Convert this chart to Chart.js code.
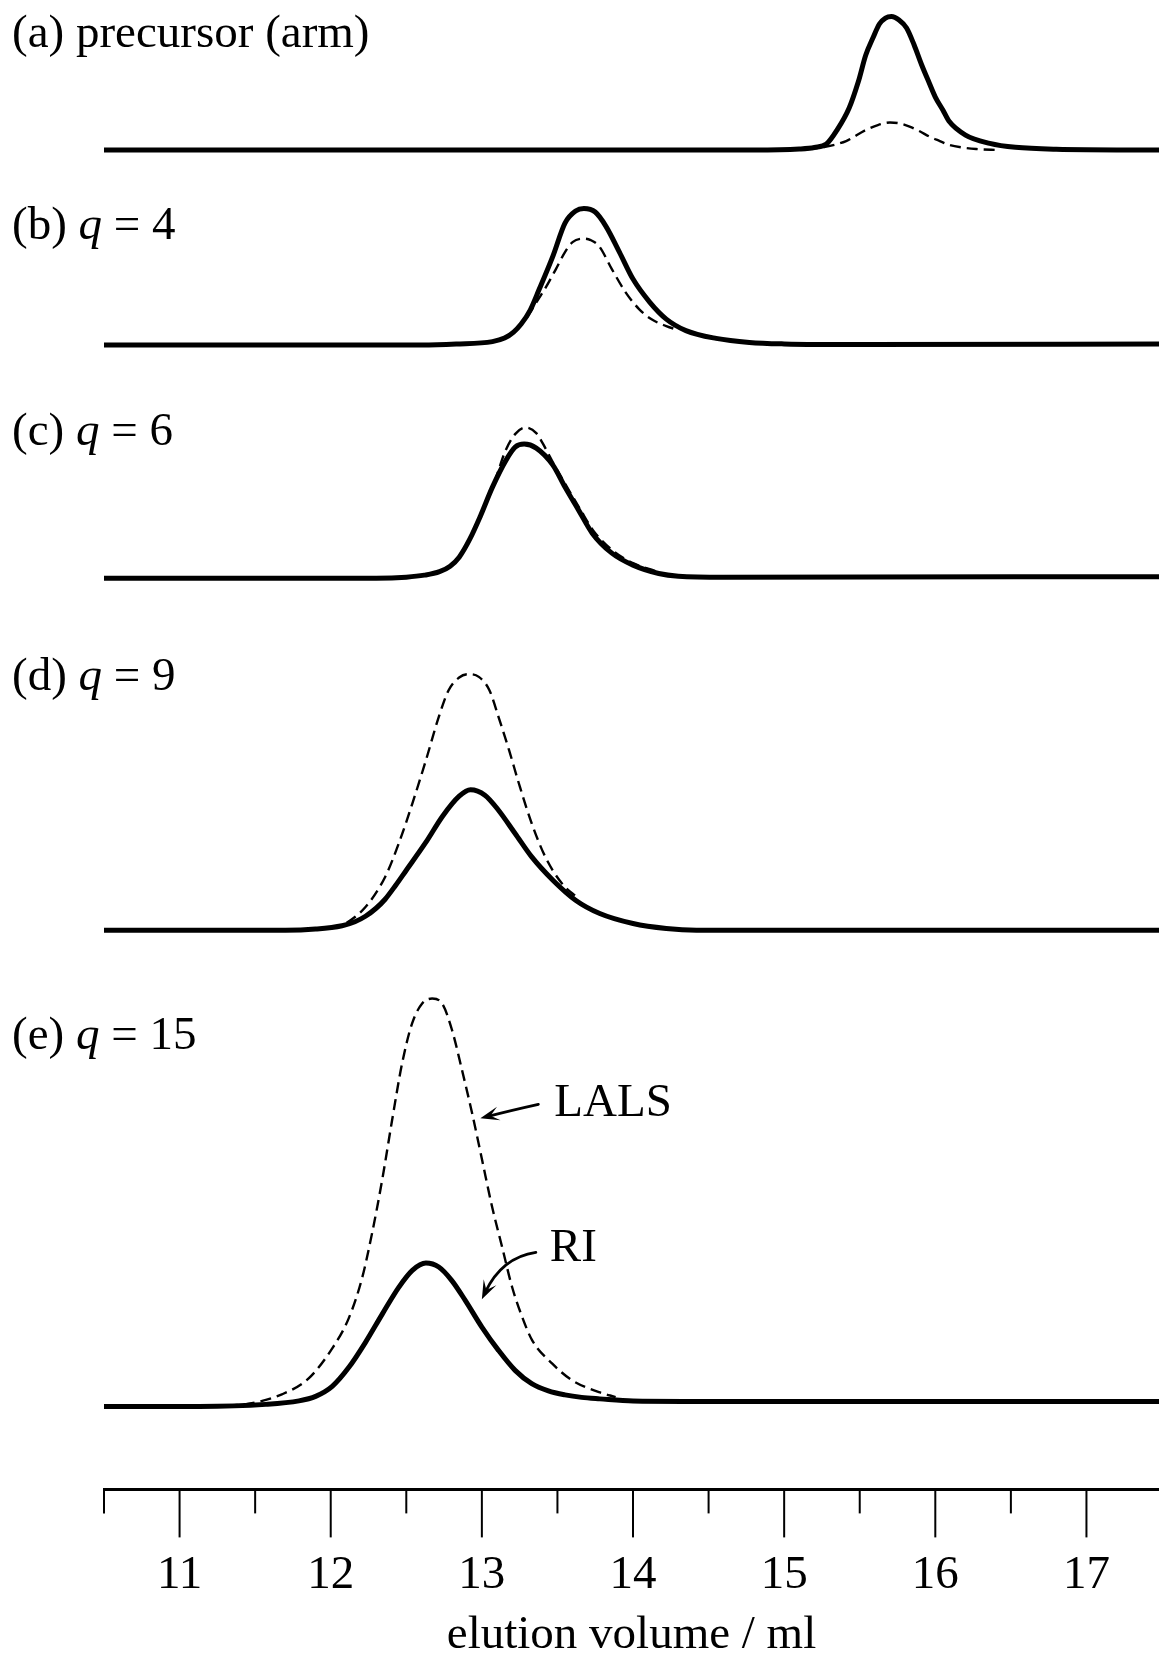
<!DOCTYPE html>
<html>
<head>
<meta charset="utf-8">
<script src="https://cdn.jsdelivr.net/npm/chart.js@4.4.0/dist/chart.umd.min.js"></script>
<style>
  html, body { margin: 0; padding: 0; background: #fff; }
  #wrap { width: 1159px; height: 1655px; }
</style>
</head>
<body>
<div id="wrap"><canvas id="sec"></canvas></div>
<script>
// elution volume (ml) and detector response, RI solid, LALS dashed
const riVolA = [10.5, 14.8, 15.1, 15.2, 15.28, 15.35, 15.43, 15.49, 15.54, 15.59, 15.63, 15.67, 15.71, 15.76, 15.81, 15.86, 15.91, 15.96, 16.0, 16.05, 16.09, 16.2, 16.36, 16.53, 16.8, 17.48];
const riA = [0, 0, 0.01, 0.025, 0.06, 0.2, 0.42, 0.68, 0.95, 1.13, 1.26, 1.32, 1.335, 1.3, 1.22, 1.05, 0.85, 0.67, 0.53, 0.4, 0.29, 0.15, 0.067, 0.027, 0.008, 0];
const lsVolA = [15.15, 15.28, 15.41, 15.54, 15.62, 15.7, 15.77, 15.83, 15.9, 15.96, 16.03, 16.09, 16.18, 16.27, 16.42];
const lsA = [0.005, 0.034, 0.09, 0.2, 0.25, 0.275, 0.265, 0.235, 0.185, 0.135, 0.09, 0.052, 0.025, 0.01, 0];

const riVolB = [10.5, 12.6, 12.83, 13.07, 13.15, 13.21, 13.26, 13.32, 13.38, 13.47, 13.55, 13.62, 13.675, 13.75, 13.82, 13.91, 14.0, 14.11, 14.22, 14.35, 14.55, 14.77, 15.0, 15.5, 17.48];
const riB = [0, 0, 0.01, 0.035, 0.07, 0.13, 0.21, 0.35, 0.56, 0.89, 1.22, 1.34, 1.365, 1.33, 1.19, 0.93, 0.66, 0.43, 0.26, 0.145, 0.067, 0.027, 0.012, 0.005, 0.01];
const lsVolB = [13.3, 13.37, 13.42, 13.49, 13.554, 13.6, 13.675, 13.72, 13.775, 13.86, 13.95, 14.04, 14.12, 14.22, 14.3];
const lsB = [0.28, 0.45, 0.57, 0.76, 0.94, 1.03, 1.065, 1.05, 0.99, 0.76, 0.53, 0.36, 0.26, 0.19, 0.15];

const riVolC = [10.5, 12.3, 12.5, 12.62, 12.72, 12.79, 12.85, 12.92, 12.99, 13.07, 13.16, 13.22, 13.28, 13.36, 13.47, 13.55, 13.64, 13.73, 13.86, 14.0, 14.17, 14.3, 14.6, 17.48];
const riC = [0, 0, 0.01, 0.03, 0.065, 0.12, 0.21, 0.39, 0.62, 0.91, 1.18, 1.31, 1.34, 1.3, 1.13, 0.91, 0.68, 0.45, 0.25, 0.13, 0.047, 0.02, 0.01, 0.015];
const lsVolC = [12.9, 13.0, 13.09, 13.155, 13.22, 13.29, 13.36, 13.42, 13.48, 13.56, 13.65, 13.74, 13.87, 14.0, 14.15];
const lsC = [0.34, 0.66, 0.99, 1.27, 1.44, 1.505, 1.45, 1.3, 1.13, 0.92, 0.69, 0.47, 0.27, 0.15, 0.07];

const riVolD = [10.5, 11.7, 11.9, 12.075, 12.16, 12.23, 12.3, 12.36, 12.43, 12.5, 12.63, 12.74, 12.85, 12.925, 13.02, 13.11, 13.22, 13.33, 13.47, 13.62, 13.78, 14.0, 14.22, 14.42, 17.48];
const riD = [0, 0, 0.012, 0.045, 0.085, 0.14, 0.22, 0.31, 0.45, 0.6, 0.88, 1.14, 1.34, 1.405, 1.35, 1.2, 0.967, 0.733, 0.5, 0.3, 0.167, 0.067, 0.017, 0, 0];
const lsVolD = [12.0, 12.075, 12.23, 12.36, 12.45, 12.54, 12.63, 12.715, 12.78, 12.85, 12.91, 12.98, 13.05, 13.11, 13.18, 13.245, 13.33, 13.42, 13.53, 13.64];
const lsD = [0.02, 0.05, 0.233, 0.533, 0.867, 1.267, 1.7, 2.133, 2.4, 2.527, 2.56, 2.533, 2.4, 2.133, 1.8, 1.467, 1.067, 0.733, 0.467, 0.317];

const riVolE = [10.5, 11.13, 11.57, 11.79, 11.9, 12.01, 12.12, 12.23, 12.34, 12.45, 12.54, 12.63, 12.715, 12.8, 12.89, 13.0, 13.11, 13.22, 13.33, 13.44, 13.55, 13.66, 13.78, 14.0, 14.33, 17.48];
const riE = [0, 0, 0.02, 0.055, 0.1, 0.2, 0.39, 0.64, 0.92, 1.19, 1.36, 1.433, 1.393, 1.26, 1.06, 0.793, 0.56, 0.36, 0.227, 0.155, 0.115, 0.09, 0.075, 0.053, 0.05, 0.05];
const lsVolE = [11.2, 11.457, 11.677, 11.854, 12.009, 12.119, 12.207, 12.273, 12.34, 12.406, 12.472, 12.538, 12.605, 12.671, 12.737, 12.803, 12.869, 12.936, 13.002, 13.068, 13.134, 13.2, 13.267, 13.333, 13.466, 13.598, 13.775, 13.885];
const lsE = [0, 0.027, 0.12, 0.28, 0.577, 0.88, 1.28, 1.727, 2.26, 2.86, 3.427, 3.827, 4.027, 4.077, 4.027, 3.76, 3.36, 2.927, 2.46, 1.993, 1.593, 1.193, 0.893, 0.66, 0.427, 0.26, 0.143, 0.093];

const volumeTicks = [10.5, 11, 11.5, 12, 12.5, 13, 13.5, 14, 14.5, 15, 15.5, 16, 16.5, 17];
const armCounts = [4, 6, 9, 15];

const serif = '"Liberation Serif", "Times New Roman", serif';

const panels = [
  { axis: 'yA', riVol: riVolA, ri: riA, lsVol: lsVolA, ls: lsA },
  { axis: 'yB', riVol: riVolB, ri: riB, lsVol: lsVolB, ls: lsB },
  { axis: 'yC', riVol: riVolC, ri: riC, lsVol: lsVolC, ls: lsC },
  { axis: 'yD', riVol: riVolD, ri: riD, lsVol: lsVolD, ls: lsD },
  { axis: 'yE', riVol: riVolE, ri: riE, lsVol: lsVolE, ls: lsE }
];

function toPoints(xs, ys) {
  return xs.map((v, i) => ({ x: v, y: ys[i] }));
}

const datasets = [];
panels.forEach(p => {
  datasets.push({
    label: 'RI',
    data: toPoints(p.riVol, p.ri),
    yAxisID: p.axis,
    borderColor: '#000',
    borderWidth: 5,
    borderCapStyle: 'round',
    borderJoinStyle: 'round',
    cubicInterpolationMode: 'monotone',
    order: 0
  });
  datasets.push({
    label: 'LALS',
    data: toPoints(p.lsVol, p.ls),
    yAxisID: p.axis,
    borderColor: '#000',
    borderWidth: 2.4,
    borderDash: [11, 6],
    cubicInterpolationMode: 'monotone',
    order: 1
  });
});

function arrow(ctx, sx, sy, cx, cy, tx, ty) {
  const ang = Math.atan2(ty - cy, tx - cx);
  const len = 19, half = 7;
  ctx.beginPath();
  ctx.moveTo(sx, sy);
  ctx.quadraticCurveTo(cx, cy, tx - 8 * Math.cos(ang), ty - 8 * Math.sin(ang));
  ctx.stroke();
  ctx.beginPath();
  ctx.moveTo(tx, ty);
  ctx.lineTo(tx - len * Math.cos(ang) + half * Math.sin(ang), ty - len * Math.sin(ang) - half * Math.cos(ang));
  ctx.lineTo(tx - 0.55 * len * Math.cos(ang), ty - 0.55 * len * Math.sin(ang));
  ctx.lineTo(tx - len * Math.cos(ang) - half * Math.sin(ang), ty - len * Math.sin(ang) + half * Math.cos(ang));
  ctx.closePath();
  ctx.fill();
}

function runs(ctx, parts, x, y) {
  parts.forEach(([text, italic]) => {
    ctx.font = (italic ? 'italic ' : '') + '47px ' + serif;
    ctx.fillText(text, x, y);
    x += ctx.measureText(text).width;
  });
}

const decorations = {
  id: 'decorations',
  afterDraw(chart) {
    const ctx = chart.ctx;
    const xs = chart.scales.x;
    const yE = chart.scales.yE;
    ctx.save();
    ctx.strokeStyle = '#000';
    ctx.fillStyle = '#000';

    // tick marks hang below the axis line, long ones on whole ml
    ctx.lineWidth = 2;
    xs.ticks.forEach(t => {
      const px = xs.getPixelForValue(t.value);
      const len = Number.isInteger(t.value) ? 48 : 24;
      ctx.beginPath();
      ctx.moveTo(px, xs.top);
      ctx.lineTo(px, xs.top + len);
      ctx.stroke();
    });

    // panel captions
    ctx.textBaseline = 'alphabetic';
    ctx.textAlign = 'left';
    runs(ctx, [['(a) precursor (arm)', false]], 12, 47);
    const rowY = [239, 445, 690, 1049];
    armCounts.forEach((n, i) => {
      const letter = 'bcde'[i];
      runs(ctx, [['(' + letter + ') ', false], ['q', true], [' = ' + n, false]], 12, rowY[i]);
    });

    // detector labels with arrows onto the q = 15 traces
    ctx.lineWidth = 2.8;
    ctx.lineCap = 'round';
    const lx = xs.getPixelForValue(12.99), ly = yE.getPixelForValue(2.88);
    arrow(ctx, lx + 58, ly - 14, lx + 31, ly - 8, lx, ly);
    const rx = xs.getPixelForValue(13.0), ry = yE.getPixelForValue(1.07);
    arrow(ctx, rx + 54, ry - 47, rx + 20, ry - 42, rx, ry);
    ctx.font = '47px ' + serif;
    ctx.fillText('LALS', lx + 74, ly - 2);
    ctx.fillText('RI', rx + 68, ry - 38);
    ctx.restore();
  }
};

new Chart(document.getElementById('sec'), {
  type: 'line',
  data: { datasets },
  options: {
    responsive: true,
    maintainAspectRatio: false,
    animation: false,
    layout: { padding: { left: 104, right: 0, top: 0, bottom: 0 } },
    elements: { point: { radius: 0 } },
    plugins: { legend: { display: false }, tooltip: { enabled: false } },
    scales: {
      x: {
        type: 'linear',
        position: 'bottom',
        min: 10.5,
        max: 17.48,
        afterBuildTicks: scale => { scale.ticks = volumeTicks.map(v => ({ value: v })); },
        grid: { display: true, drawOnChartArea: false, drawTicks: true, tickLength: 48, tickColor: 'rgba(0,0,0,0)' },
        border: { display: true, color: '#000', width: 3 },
        ticks: {
          color: '#000',
          padding: 10,
          maxRotation: 0,
          autoSkip: false,
          font: { family: serif, size: 47 },
          callback: v => Number.isInteger(v) ? String(v) : ''
        },
        title: {
          display: true,
          text: 'elution volume / ml',
          color: '#000',
          font: { family: serif, size: 47, lineHeight: 0.6 },
          padding: { top: 8, bottom: 5 }
        }
      },
      yE: { type: 'linear', position: 'left', display: false, stack: 'sec', stackWeight: 529, min: -0.83, max: 4.46 },
      yD: { type: 'linear', position: 'left', display: false, stack: 'sec', stackWeight: 320, min: -0.30, max: 2.90 },
      yC: { type: 'linear', position: 'left', display: false, stack: 'sec', stackWeight: 240, min: -0.62, max: 1.78 },
      yB: { type: 'linear', position: 'left', display: false, stack: 'sec', stackWeight: 200, min: -0.55, max: 1.45 },
      yA: { type: 'linear', position: 'left', display: false, stack: 'sec', stackWeight: 200, min: -0.5, max: 1.5 }
    }
  },
  plugins: [decorations]
});
</script>
</body>
</html>
